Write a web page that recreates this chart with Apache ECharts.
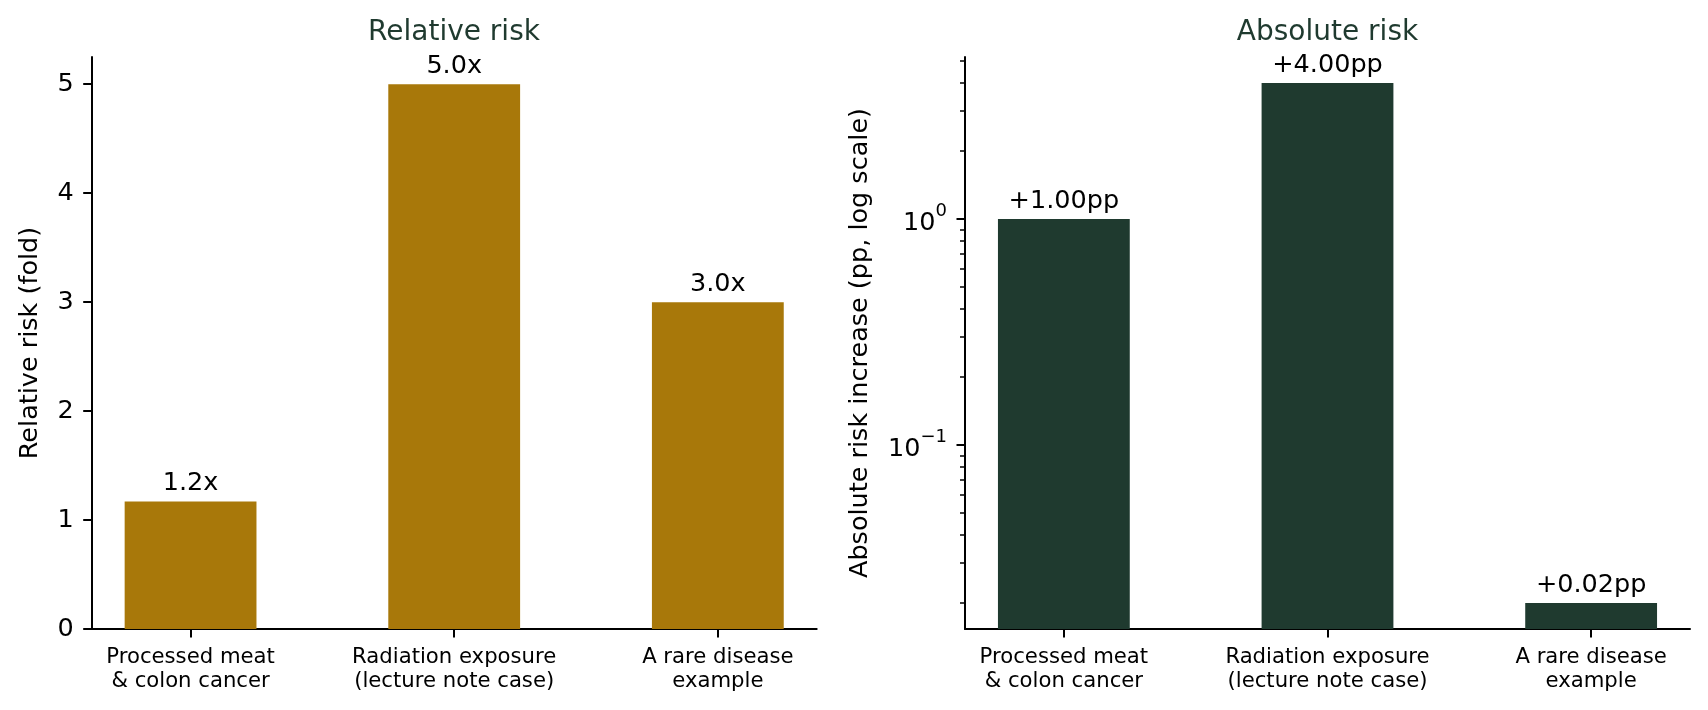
<!DOCTYPE html>
<html>
<head>
<meta charset="utf-8">
<script src="https://cdn.jsdelivr.net/npm/echarts@6/dist/echarts.min.js"></script>
<style>
  html, body { margin: 0; padding: 0; background: #fff; }
  #chart { width: 1708px; height: 710px; }
</style>
</head>
<body>
<div id="chart"></div>
<script>
var categories = ['Processed meat\n& colon cancer', 'Radiation exposure\n(lecture note case)', 'A rare disease\nexample'];
var categoryPos = [0, 1, 2];
var relativeRisk = [1.17, 5.0, 3.0];
var absoluteRisk = [1.0, 4.0, 0.02];
var relTicks = [0, 1, 2, 3, 4, 5];
var absMajorTicks = [0.1, 1];
var absMinorTicks = [0.02, 0.03, 0.04, 0.05, 0.06, 0.07, 0.08, 0.09, 0.2, 0.3, 0.4, 0.5, 0.6, 0.7, 0.8, 0.9, 2, 3, 4, 5];

var FONT = 'DejaVu Sans';
var gold = '#A8780A';
var green = '#1F3A2F';
var relMin = 0, relMax = 5.25;
var absMin = 0.01535, absMax = 5.21;

var chart = echarts.init(document.getElementById('chart'));

function supPow(v) {
    var e = Math.round(Math.log10(v));
    return '{b|10}{s|' + (e < 0 ? '\u2212' + (-e) : e) + '}';
}

function makeBars(color, base, fmt) {
    return function (params, api) {
        var x = api.value(0), v = api.value(1);
        var top = api.coord([x, v]);
        var bottom = api.coord([x, base]);
        var w = api.size([0.5, 0])[0];
        return {
            type: 'group',
            children: [{
                type: 'rect',
                shape: { x: top[0] - w / 2, y: top[1], width: w, height: bottom[1] - top[1] },
                style: { fill: color }
            }, {
                type: 'text',
                x: top[0], y: top[1] - 5,
                style: {
                    text: fmt(v), fill: '#000', font: '25.5px "' + FONT + '"',
                    align: 'center', verticalAlign: 'bottom'
                }
            }]
        };
    };
}

function xAxisFor(gi) {
    return {
        type: 'value', gridIndex: gi, min: -0.375, max: 2.375,
        axisLine: { onZero: false, lineStyle: { color: '#000', width: 2 } },
        axisTick: { show: true, customValues: categoryPos, length: 8.5, lineStyle: { color: '#000', width: 2 } },
        axisLabel: {
            customValues: categoryPos, margin: 16, color: '#000',
            fontFamily: FONT, fontSize: 21.2, lineHeight: 24.5, align: 'center',
            formatter: function (v) { return categories[Math.round(v)]; }
        },
        splitLine: { show: false }
    };
}

var option = {
    animation: false,
    title: [{
        text: 'Relative risk', left: 454, top: 19, padding: 0, textAlign: 'center',
        textStyle: { fontFamily: FONT, fontSize: 28, fontWeight: 'normal', color: green }
    }, {
        text: 'Absolute risk', left: 1327.5, top: 19, padding: 0, textAlign: 'center',
        textStyle: { fontFamily: FONT, fontSize: 28, fontWeight: 'normal', color: green }
    }],
    grid: [
        { left: 91.7, top: 57, width: 725, height: 572 },
        { left: 965, top: 57, width: 725, height: 572 }
    ],
    xAxis: [xAxisFor(0), xAxisFor(1)],
    yAxis: [{
        type: 'value', gridIndex: 0, min: relMin, max: relMax, position: 'left',
        name: 'Relative risk (fold)', nameLocation: 'middle', nameRotate: 90, nameGap: 48,
        nameTextStyle: { fontFamily: FONT, fontSize: 25.5, color: '#000' },
        axisLine: { show: true, onZero: false, lineStyle: { color: '#000', width: 2 } },
        axisTick: { show: true, customValues: relTicks, length: 8.5, lineStyle: { color: '#000', width: 2 } },
        axisLabel: { customValues: relTicks, margin: 18, color: '#000', fontFamily: FONT, fontSize: 25.5 },
        splitLine: { show: false }
    }, {
        type: 'log', logBase: 10, gridIndex: 1, min: absMin, max: absMax, position: 'left',
        name: 'Absolute risk increase (pp, log scale)', nameLocation: 'middle', nameRotate: 90, nameGap: 92,
        nameTextStyle: { fontFamily: FONT, fontSize: 25.5, color: '#000' },
        axisLine: { show: true, onZero: false, lineStyle: { color: '#000', width: 2 } },
        axisTick: { show: true, customValues: absMajorTicks, length: 8.5, lineStyle: { color: '#000', width: 2 } },
        axisLabel: {
            customValues: absMajorTicks, margin: 18, color: '#000', fontFamily: FONT,
            formatter: function (v) { return supPow(v); },
            rich: {
                b: { fontFamily: FONT, fontSize: 25.5, lineHeight: 34, verticalAlign: 'bottom', color: '#000' },
                s: { fontFamily: FONT, fontSize: 18, lineHeight: 18, verticalAlign: 'top', color: '#000' }
            }
        },
        splitLine: { show: false }
    }, {
        type: 'log', logBase: 10, gridIndex: 1, min: absMin, max: absMax, position: 'left',
        axisLine: { show: false, onZero: false },
        axisTick: { show: true, customValues: absMinorTicks, length: 5, lineStyle: { color: '#000', width: 1.5 } },
        axisLabel: { show: false },
        splitLine: { show: false }
    }],
    series: [{
        type: 'custom', xAxisIndex: 0, yAxisIndex: 0,
        renderItem: makeBars(gold, relMin, function (v) { return v.toFixed(1) + 'x'; }),
        data: categoryPos.map(function (c, i) { return [c, relativeRisk[i]]; })
    }, {
        type: 'custom', xAxisIndex: 1, yAxisIndex: 1,
        renderItem: makeBars(green, absMin, function (v) { return '+' + v.toFixed(2) + 'pp'; }),
        data: categoryPos.map(function (c, i) { return [c, absoluteRisk[i]]; })
    }]
};
chart.setOption(option);
</script>
</body>
</html>
